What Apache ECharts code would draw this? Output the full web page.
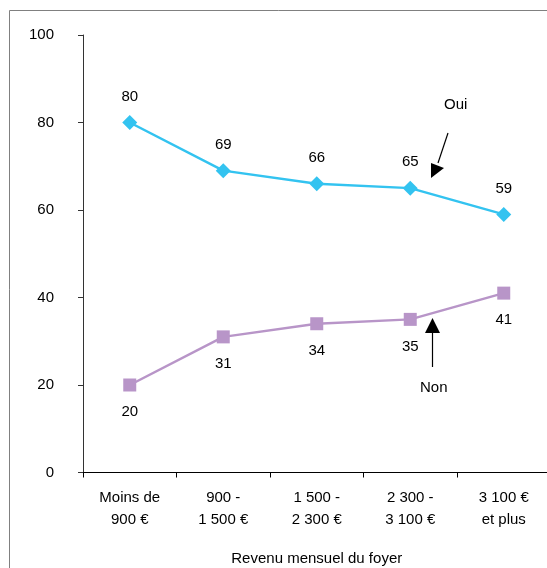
<!DOCTYPE html>
<html>
<head>
<meta charset="utf-8">
<script src="https://cdn.jsdelivr.net/npm/echarts@6/dist/echarts.min.js"></script>
<style>
  html, body { margin: 0; padding: 0; background: #fff; overflow: hidden; }
  #chart { width: 547px; height: 568px; }
</style>
</head>
<body>
<div id="chart"></div>
<script>
// Income brackets (x categories)
const categories = [
  'Moins de\n900 €',
  '900 -\n1 500 €',
  '1 500 -\n2 300 €',
  '2 300 -\n3 100 €',
  '3 100 €\net plus'
];
// Share of answers per bracket (%)
const ouiValues = [80, 69, 66, 65, 59];
const nonValues = [20, 31, 34, 35, 41];
// Value axis ticks
const yTicks = [0, 20, 40, 60, 80, 100];

const FONT = 'Arial, "Liberation Sans", sans-serif';
const chart = echarts.init(document.getElementById('chart'), null, { renderer: 'canvas' });

chart.setOption({
  backgroundColor: '#fff',
  animation: false,
  textStyle: { fontFamily: FONT },
  grid: {
    left: 83, top: 35, width: 467.5, height: 437.5,
    containLabel: false, outerBoundsMode: 'none'
  },
  xAxis: {
    type: 'category',
    data: categories,
    boundaryGap: true,
    axisLine: { lineStyle: { color: '#000', width: 1 } },
    axisTick: { show: true, length: 5, lineStyle: { color: '#000' } },
    axisLabel: {
      color: '#000', fontSize: 15, fontFamily: FONT,
      lineHeight: 22, margin: 14, interval: 0
    },
    name: 'Revenu mensuel du foyer',
    nameLocation: 'middle',
    nameGap: 79,
    nameTextStyle: { color: '#000', fontSize: 15, fontFamily: FONT },
    splitLine: { show: false }
  },
  yAxis: {
    type: 'value',
    min: yTicks[0],
    max: yTicks[yTicks.length - 1],
    interval: yTicks[1] - yTicks[0],
    axisLine: { show: true, lineStyle: { color: '#333', width: 1 } },
    axisTick: { show: true, length: 5, lineStyle: { color: '#333' } },
    axisLabel: { color: '#000', fontSize: 15, fontFamily: FONT, margin: 29 },
    splitLine: { show: false }
  },
  series: [
    {
      name: 'Oui',
      type: 'line',
      data: ouiValues,
      symbol: 'diamond',
      symbolSize: 15,
      lineStyle: { color: '#33C3F0', width: 2.5 },
      itemStyle: { color: '#33C3F0' },
      label: {
        show: true, position: 'top', distance: 11,
        color: '#000', fontSize: 15, fontFamily: FONT
      }
    },
    {
      name: 'Non',
      type: 'line',
      data: nonValues,
      symbol: 'rect',
      symbolSize: 13,
      lineStyle: { color: '#B895C8', width: 2.5 },
      itemStyle: { color: '#B895C8' },
      label: {
        show: true, position: 'bottom', distance: 13,
        color: '#000', fontSize: 15, fontFamily: FONT
      }
    }
  ],
  graphic: [
    // outer frame
    {
      type: 'rect', silent: true, z: -1,
      shape: { x: 9.5, y: 10.5, width: 600, height: 600 },
      style: { fill: 'none', stroke: '#808080', lineWidth: 1 }
    },
    // "Oui" callout
    {
      type: 'text', left: 444, top: 97,
      style: { text: 'Oui', fill: '#000', font: '15px ' + FONT }
    },
    {
      type: 'line',
      shape: { x1: 448, y1: 133, x2: 438, y2: 163 },
      style: { stroke: '#000', lineWidth: 1.2 }
    },
    {
      type: 'polygon',
      shape: { points: [[431, 178], [431, 163], [444, 168]] },
      style: { fill: '#000' }
    },
    // "Non" callout
    {
      type: 'text', left: 420, top: 380,
      style: { text: 'Non', fill: '#000', font: '15px ' + FONT }
    },
    {
      type: 'line',
      shape: { x1: 432.5, y1: 367, x2: 432.5, y2: 332 },
      style: { stroke: '#000', lineWidth: 1.2 }
    },
    {
      type: 'polygon',
      shape: { points: [[432.5, 318], [425, 333], [440, 333]] },
      style: { fill: '#000' }
    }
  ]
});
</script>
</body>
</html>
